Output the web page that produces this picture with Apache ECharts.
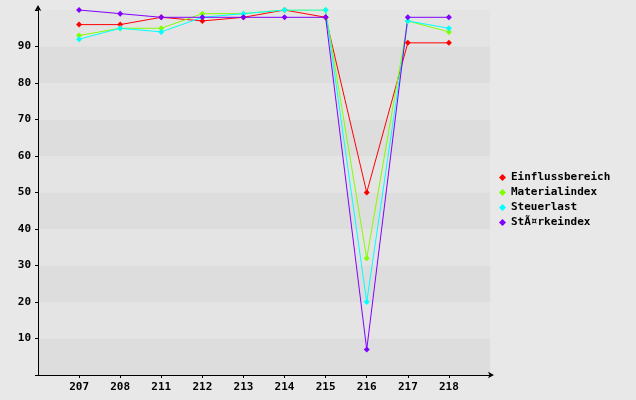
<!DOCTYPE html>
<html>
<head>
<meta charset="utf-8">
<script src="https://cdn.jsdelivr.net/npm/echarts@6/dist/echarts.min.js"></script>
<style>
  html, body { margin: 0; padding: 0; background: #e8e8e8; }
  #chart { width: 636px; height: 400px; }
</style>
</head>
<body>
<div id="chart"></div>
<script>
const categories = ['207', '208', '211', '212', '213', '214', '215', '216', '217', '218']
const einfluss = [96, 96, 98, 97, 98, 100, 98, 50, 91, 91]
const material = [93, 95, 95, 99, 99, 100, 100, 32, 97, 94]
const steuer = [92, 95, 94, 98, 99, 100, 100, 20, 97, 95]
const staerke = [100, 99, 98, 98, 98, 98, 98, 7, 98, 98]
const seriesNames = ['Einflussbereich', 'Materialindex', 'Steuerlast', 'StÃ¤rkeindex']
const seriesColors = ['#ff0000', '#80ff00', '#00ffff', '#8000ff']
const yTicks = [10, 20, 30, 40, 50, 60, 70, 80, 90]

const font = 'DejaVu Sans Mono'
const chart = echarts.init(document.getElementById('chart'))

const xData = [''].concat(categories).concat([''])
const inner = function (i) { return i > 0 && i < xData.length - 1 }

function makeSeries(name, color, values) {
  return {
    name: name,
    type: 'line',
    data: categories.map(function (c, i) { return [c, values[i]] }),
    symbol: 'diamond',
    symbolSize: 6,
    lineStyle: { color: color, width: 1 },
    itemStyle: { color: color },
    animation: false,
  }
}

const option = {
  backgroundColor: '#e8e8e8',
  color: seriesColors,
  grid: {
    left: 38,
    right: 146,
    top: 10,
    bottom: 25,
  },
  legend: {
    orient: 'vertical',
    left: 494,
    top: 167,
    itemWidth: 7,
    itemHeight: 7,
    itemGap: 4,
    icon: 'diamond',
    textStyle: { fontFamily: font, fontWeight: 'bold', fontSize: 11, color: '#000' },
    data: seriesNames,
  },
  xAxis: {
    type: 'category',
    data: xData,
    boundaryGap: false,
    axisLine: {
      lineStyle: { color: '#000', width: 1 },
      symbol: ['none', 'arrow'],
      symbolSize: [5, 6],
      symbolOffset: [0, 4],
    },
    axisTick: { length: 3, interval: inner, lineStyle: { color: '#000' } },
    axisLabel: {
      interval: inner,
      color: '#000',
      fontFamily: font,
      fontWeight: 'bold',
      fontSize: 11,
      margin: 7,
    },
    splitLine: { show: false },
  },
  yAxis: {
    type: 'value',
    min: 0,
    max: 100,
    interval: 10,
    axisLine: {
      show: true,
      lineStyle: { color: '#000', width: 1 },
      symbol: ['none', 'arrow'],
      symbolSize: [5, 6],
      symbolOffset: [0, 5],
    },
    axisTick: { show: true, length: 3, lineStyle: { color: '#000' } },
    axisLabel: {
      color: '#000',
      fontFamily: font,
      fontWeight: 'bold',
      fontSize: 11,
      margin: 7,
      formatter: function (v) { return yTicks.indexOf(v) >= 0 ? String(v) : '' },
    },
    splitLine: { show: false },
    splitArea: { show: true, areaStyle: { color: ['#dddddd', '#e4e4e4'] } },
  },
  series: [
    makeSeries(seriesNames[0], seriesColors[0], einfluss),
    makeSeries(seriesNames[1], seriesColors[1], material),
    makeSeries(seriesNames[2], seriesColors[2], steuer),
    makeSeries(seriesNames[3], seriesColors[3], staerke),
  ],
}
chart.setOption(option)
</script>
</body>
</html>
